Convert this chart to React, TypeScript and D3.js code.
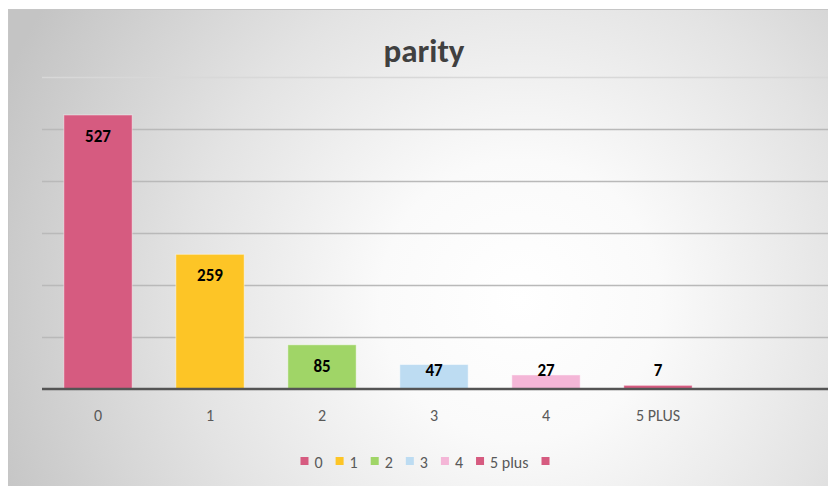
import React, { useEffect, useRef } from "react";
import * as d3 from "d3";

// Parity distribution: count of records per parity group
const categories = ["0", "1", "2", "3", "4", "5 PLUS", ""];
const counts = [527, 259, 85, 47, 27, 7];
const legendLabels = ["0", "1", "2", "3", "4", "5 plus", ""];
const barColors = ["#d65b80", "#fdc526", "#a0d567", "#bddcf2", "#f4b6d7", "#d65b80", "#d65b80"];
const yTicks = [100, 200, 300, 400, 500, 600];
const title = "parity";

const W = 828;
const H = 486;
const FONT = "Carlito, Calibri, Lato, 'Open Sans', sans-serif";

export default function App() {
  const ref = useRef<SVGSVGElement | null>(null);

  useEffect(() => {
    const svg = d3.select(ref.current);
    svg.selectAll("*").remove();

    const defs = svg.append("defs");
    const grad = defs
      .append("radialGradient")
      .attr("id", "bg")
      .attr("gradientUnits", "userSpaceOnUse")
      .attr("cx", 520)
      .attr("cy", 300)
      .attr("r", 560);
    grad.append("stop").attr("offset", "0%").attr("stop-color", "#ffffff");
    grad.append("stop").attr("offset", "25%").attr("stop-color", "#fafafa");
    grad.append("stop").attr("offset", "60%").attr("stop-color", "#e3e3e3");
    grad.append("stop").attr("offset", "100%").attr("stop-color", "#c4c4c4");

    // chart area
    svg
      .append("rect")
      .attr("x", 8.5)
      .attr("y", 9.5)
      .attr("width", W - 8)
      .attr("height", H - 9)
      .attr("fill", "url(#bg)")
      .attr("stroke", "#c6c6c6")
      .attr("stroke-width", 1);

    const x = d3
      .scaleBand<string>()
      .domain(categories)
      .range([42, 826])
      .paddingInner(0.39)
      .paddingOuter(0.195);
    const y = d3.scaleLinear().domain([0, 600]).range([389, 77]);

    // title
    svg
      .append("text")
      .attr("x", 424)
      .attr("y", 62)
      .attr("text-anchor", "middle")
      .attr("font-family", FONT)
      .attr("font-weight", "bold")
      .attr("font-size", 33)
      .attr("fill", "#404040")
      .text(title);

    // gridlines
    svg
      .append("g")
      .selectAll("line")
      .data(yTicks)
      .join("line")
      .attr("x1", 42)
      .attr("x2", 828)
      .attr("y1", (d) => Math.round(y(d)) + 0.5)
      .attr("y2", (d) => Math.round(y(d)) + 0.5)
      .attr("stroke", (d) => (d === 600 ? "#d8d8d8" : "#b9b9b9"))
      .attr("stroke-width", 1.3);

    // bars
    svg
      .append("g")
      .selectAll("rect")
      .data(counts)
      .join("rect")
      .attr("x", (_, i) => x(categories[i])!)
      .attr("y", (d) => y(d))
      .attr("width", x.bandwidth())
      .attr("height", (d) => y(0) - y(d))
      .attr("fill", (_, i) => barColors[i])
      .attr("stroke", "#ffffff")
      .attr("stroke-opacity", 0.45)
      .attr("stroke-width", 1);

    // baseline axis
    svg
      .append("line")
      .attr("x1", 42)
      .attr("x2", 828)
      .attr("y1", y(0))
      .attr("y2", y(0))
      .attr("stroke", "#545454")
      .attr("stroke-width", 2.6);

    // value labels
    svg
      .append("g")
      .selectAll("text")
      .data(counts)
      .join("text")
      .attr("x", (_, i) => x(categories[i])! + x.bandwidth() / 2)
      .attr("y", (d) => Math.min(y(d) + 27, y(0) - 13))
      .attr("text-anchor", "middle")
      .attr("font-family", FONT)
      .attr("font-weight", "bold")
      .attr("font-size", 17)
      .attr("fill", "#000000")
      .text((d) => String(d));

    // category labels
    svg
      .append("g")
      .selectAll("text")
      .data(categories)
      .join("text")
      .attr("x", (d) => x(d)! + x.bandwidth() / 2)
      .attr("y", 421)
      .attr("text-anchor", "middle")
      .attr("font-family", FONT)
      .attr("font-size", 16)
      .attr("fill", "#595959")
      .text((d) => d);

    // legend
    const legend = svg.append("g");
    const sq = 8;
    const gapText = 6;
    const gapItem = 13;
    const items = legendLabels.map((label, i) => {
      const g = legend.append("g");
      g.append("rect")
        .attr("width", sq)
        .attr("height", sq)
        .attr("y", 457)
        .attr("fill", barColors[i]);
      const t = g
        .append("text")
        .attr("x", sq + gapText)
        .attr("y", 467.5)
        .attr("font-family", FONT)
        .attr("font-size", 16)
        .attr("fill", "#595959")
        .text(label);
      const tw = label ? (t.node() as SVGTextElement).getComputedTextLength() : 0;
      const w = label ? sq + gapText + tw : sq;
      return { g, w };
    });
    const total = d3.sum(items, (d) => d.w) + gapItem * (items.length - 1);
    let cx = 425 - total / 2;
    items.forEach((it) => {
      it.g.attr("transform", `translate(${cx},0)`);
      cx += it.w + gapItem;
    });
  }, []);

  return (
    <svg
      ref={ref}
      width={W}
      height={H}
      style={{ position: "absolute", left: 0, top: 0, display: "block" }}
    />
  );
}
